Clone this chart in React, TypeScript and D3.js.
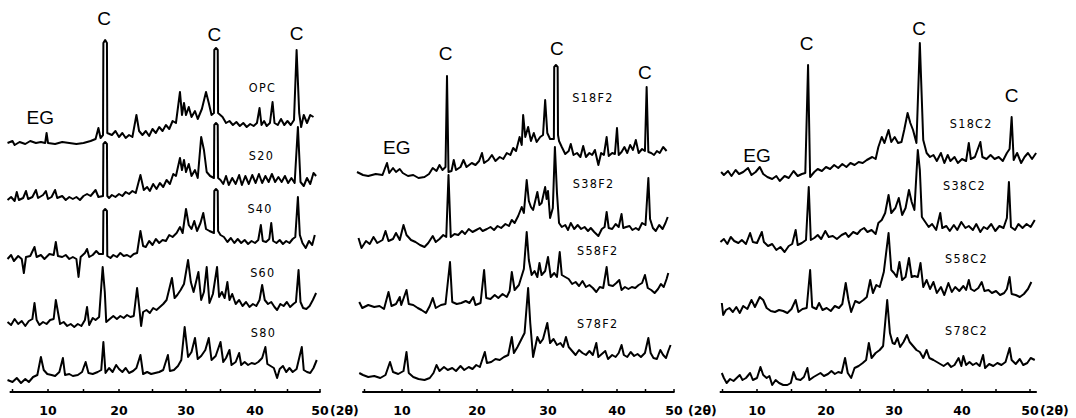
import React from "react";
import * as d3 from "d3";

type Pt = [number, number];

// 2θ tick values shared by the three panels
const tickValues = [10, 20, 30, 40, 50];
const minorTicks = [5, 10, 15, 20, 25, 30, 35, 40, 45, 50];

// ---- panel 1 : OPC and S-series (2θ, relative intensity) ----
const opc: Pt[] = [[4.3,0],[5,2],[5.3,-2],[6,1],[6.8,-1],[7.5,2],[8.3,0],[9,1],[9.6,0],[9.8,10],[10,0],[11,-1],[12,1],[13,0],[14,-1],[15,0],[16,2],[16.7,4],[17.1,15],[17.4,5],[17.75,8],[17.8,100],[18.05,103],[18.3,100],[18.35,10],[19,8],[19.5,12],[20,6],[20.5,10],[21,5],[21.5,8],[22,6],[22.6,28],[23,12],[23.5,8],[24,12],[24.5,7],[25,14],[25.5,10],[26,16],[26.5,12],[27,18],[27.5,14],[28,22],[28.5,20],[29.1,51],[29.4,28],[29.7,40],[30,28],[30.4,36],[30.8,26],[31.3,32],[31.7,24],[32.3,34],[32.9,51],[33.3,40],[33.7,28],[34.05,30],[34.1,93],[34.35,95],[34.6,93],[34.65,30],[35.3,26],[35.8,20],[36.3,22],[36.8,18],[37.3,21],[37.8,17],[38.3,20],[38.8,16],[39.3,19],[39.8,17],[40.3,20],[40.7,35],[41,18],[41.4,22],[41.8,17],[42.3,20],[42.7,41],[43,20],[43.5,18],[44,24],[44.5,18],[45,22],[45.5,18],[46,23],[46.4,93],[46.8,30],[47.1,16],[47.5,28],[48,20],[48.5,28],[49,26]];
const s20: Pt[] = [[4.3,0],[4.8,3],[5.3,-1],[5.6,8],[5.9,0],[6.5,2],[6.9,9],[7.2,1],[7.8,3],[8.3,10],[8.6,2],[9.3,5],[9.7,9],[10,1],[10.5,3],[11,10],[11.3,2],[12,4],[12.5,0],[13,3],[13.5,1],[14,3],[14.5,0],[15,4],[15.5,6],[16,4],[16.7,10],[17.1,3],[17.75,4],[17.8,56],[18.05,58],[18.3,56],[18.35,4],[18.6,2],[19,5],[19.5,3],[20,6],[20.5,4],[21,8],[21.5,6],[22,9],[22.5,7],[23.2,25],[23.7,10],[24.2,13],[24.6,9],[25.1,16],[25.6,11],[26.1,17],[26.6,13],[27.1,20],[27.6,16],[28.1,26],[28.5,24],[29.1,42],[29.4,30],[29.7,40],[30,28],[30.4,36],[30.8,24],[31.3,30],[31.7,22],[32.2,63],[32.6,50],[33,28],[33.5,24],[34.05,22],[34.1,75],[34.35,77],[34.6,75],[34.65,22],[35,20],[35.4,16],[35.8,24],[36.2,15],[36.7,22],[37.2,16],[37.7,25],[38.1,15],[38.6,24],[39.1,16],[39.6,25],[40.1,17],[40.6,26],[41.1,17],[41.6,24],[42.1,18],[42.6,26],[43.1,18],[43.6,23],[44.1,18],[44.6,24],[45.1,17],[45.6,22],[46.1,17],[46.6,73],[47,18],[47.5,14],[48,22],[48.5,16],[49,27],[49.4,24]];
const s40: Pt[] = [[4.3,0],[4.8,4],[5.2,-2],[5.8,3],[6.3,0],[6.6,-14],[6.9,2],[7.5,3],[8.1,12],[8.4,2],[9,4],[9.5,0],[10.2,5],[10.8,4],[11.1,17],[11.4,3],[12,2],[12.5,4],[13,0],[13.5,2],[14,0],[14.3,-18],[14.6,2],[15.2,6],[15.5,10],[15.8,2],[16.3,4],[16.8,8],[17.2,5],[17.75,5],[17.8,48],[18.05,50],[18.3,48],[18.35,3],[18.8,1],[19.2,4],[19.7,2],[20.2,6],[20.7,3],[21.2,4],[21.7,2],[22.2,5],[22.7,6],[23.2,28],[23.6,13],[24,12],[24.5,18],[25,14],[25.5,20],[26,16],[26.5,19],[27,18],[27.5,24],[28,22],[28.6,26],[29.1,32],[29.5,26],[30.0,50],[30.4,34],[30.8,30],[31.2,38],[31.6,28],[32.1,36],[32.5,46],[32.9,30],[33.4,28],[34.05,26],[34.1,68],[34.35,70],[34.6,68],[34.65,28],[35,24],[35.5,22],[36,17],[36.5,21],[37,16],[37.5,20],[38,16],[38.5,19],[39,15],[39.5,18],[40,16],[40.5,19],[40.9,34],[41.2,18],[41.7,17],[42.2,20],[42.5,36],[42.8,18],[43.3,16],[43.8,19],[44.3,15],[44.8,18],[45.3,16],[45.8,20],[46.2,22],[46.6,62],[46.9,24],[47.3,16],[47.8,11],[48.3,18],[48.8,14],[49.2,24]];
const s60: Pt[] = [[4.3,0],[4.8,-3],[5.3,3],[5.8,-2],[6.3,1],[6.8,-4],[7.3,1],[7.8,3],[8.1,19],[8.4,2],[8.8,-3],[9.3,0],[9.8,-2],[10.3,2],[10.8,3],[11.1,22],[11.4,10],[11.7,-2],[12.2,0],[12.7,-4],[13.2,-2],[13.7,-5],[14.2,-2],[14.7,-4],[15.2,2],[15.5,15],[15.8,-3],[16.3,4],[16.7,2],[17.2,5],[17.7,55],[18.0,30],[18.2,0],[18.7,3],[19.2,6],[19.7,3],[20.2,6],[20.7,4],[21.2,7],[21.7,5],[22.2,6],[22.7,34],[23,16],[23.3,-4],[23.6,10],[24.1,12],[24.6,9],[25.1,14],[25.6,12],[26.1,15],[26.6,18],[27.1,22],[27.9,44],[28.3,24],[28.7,27],[29.2,32],[29.7,38],[30.3,62],[30.7,40],[31.1,30],[31.8,50],[32.2,22],[32.6,30],[33.0,55],[33.4,19],[33.9,28],[34.5,55],[34.8,25],[35.2,30],[35.6,24],[36.0,40],[36.3,22],[36.7,28],[37.2,18],[37.7,22],[38.2,16],[38.7,20],[39.2,15],[39.7,18],[40.2,16],[40.7,22],[41.1,37],[41.5,22],[42,18],[42.5,20],[43,15],[43.4,12],[43.9,18],[44.4,16],[44.9,20],[45.4,15],[45.9,18],[46.3,20],[46.7,52],[47,20],[47.4,14],[47.9,13],[48.4,16],[48.9,22],[49.4,29]];
const s80: Pt[] = [[4.3,0],[5,-2],[5.6,2],[6.2,-3],[6.8,1],[7.3,-2],[7.9,3],[8.5,5],[9,23],[9.4,10],[9.9,6],[10.5,5],[11,4],[11.6,8],[12.1,22],[12.4,5],[13,6],[13.5,4],[14.2,5],[14.8,8],[15.3,18],[15.7,7],[16.3,6],[17,8],[17.5,10],[17.8,38],[18.1,7],[18.6,12],[19.1,8],[19.6,15],[20,11],[20.5,8],[21,12],[21.5,7],[22.1,9],[22.6,12],[23.2,25],[23.6,6],[24.2,8],[24.8,6],[25.4,7],[26,8],[26.6,10],[27.3,25],[27.6,9],[28.2,10],[28.8,14],[29.3,20],[29.8,53],[30.3,23],[30.8,28],[31.3,42],[31.7,21],[32.2,24],[32.8,30],[33.3,42],[33.7,20],[34.3,24],[35,38],[35.4,18],[35.8,22],[36.3,30],[36.6,15],[37.2,18],[37.7,27],[38,15],[38.5,18],[39,15],[39.5,17],[40,16],[40.5,18],[41.1,22],[41.6,33],[41.9,16],[42.4,14],[42.9,12],[43.4,2],[43.8,11],[44.3,14],[44.8,8],[45.3,12],[45.8,8],[46.4,11],[47.2,33],[47.5,10],[48,8],[48.5,7],[49,12],[49.5,20]];

// ---- panel 2 : F2 series ----
const s18f2: Pt[] = [[4.0,3],[4.8,0],[5.5,-1],[6.5,1],[7.4,0],[8.0,12],[8.3,2],[8.8,7],[9.2,3],[9.7,6],[10.1,2],[10.8,-1],[11.5,0],[12.2,-3],[13,-2],[13.6,1],[14.1,7],[14.6,4],[15,10],[15.4,5],[15.8,8],[16.0,99],[16.2,3],[16.6,4],[16.9,15],[17.2,5],[17.8,8],[18.2,15],[18.6,8],[19.3,12],[19.8,10],[20.3,14],[20.7,22],[21.0,12],[21.6,15],[22.1,20],[22.6,14],[23.2,18],[23.7,16],[24.2,22],[24.7,20],[25.1,27],[25.5,24],[26.0,38],[26.3,30],[26.5,60],[26.8,38],[27.2,48],[27.6,34],[28.0,42],[28.4,33],[28.9,38],[29.3,40],[29.6,75],[29.9,42],[30.3,36],[30.85,36],[30.9,108],[31.15,110],[31.4,108],[31.45,40],[31.6,34],[32,28],[32.5,21],[33,24],[33.3,31],[33.7,20],[34.2,22],[34.7,18],[35.1,29],[35.5,18],[36,22],[36.4,20],[36.8,25],[37.3,10],[37.7,22],[38.1,20],[38.5,38],[38.8,19],[39.3,22],[39.7,21],[40.0,47],[40.3,20],[40.8,23],[41.3,28],[41.8,22],[42.3,30],[42.8,25],[43.3,35],[43.8,22],[44.4,26],[44.9,24],[45.2,88],[45.5,23],[46,22],[46.5,20],[47,24],[47.5,22],[48.1,28],[48.7,24]];
const s38f2: Pt[] = [[4.2,5],[4.6,-5],[5.2,2],[5.7,-1],[6.2,6],[6.7,0],[7.4,3],[7.8,12],[8.2,2],[8.8,4],[9.2,10],[9.7,3],[10.2,18],[10.6,8],[11.2,3],[11.8,1],[12.4,-2],[13.0,-4],[13.5,0],[14.1,7],[14.5,1],[15.0,4],[15.5,8],[15.9,6],[16.2,68],[16.5,6],[17,9],[17.5,8],[18,12],[18.4,9],[18.9,14],[19.4,11],[19.9,13],[20.4,15],[20.8,12],[21.4,14],[21.9,16],[22.4,13],[22.9,17],[23.4,15],[24,19],[24.5,17],[24.9,23],[25.3,20],[25.8,27],[26.3,36],[26.6,30],[27.0,63],[27.3,42],[27.6,36],[27.9,33],[28.5,51],[28.8,38],[29.1,40],[29.6,56],[29.8,44],[30.0,52],[30.3,25],[30.7,35],[31.0,96],[31.3,50],[31.6,20],[32,16],[32.5,18],[32.9,13],[33.3,20],[33.8,14],[34.3,18],[34.8,14],[35.3,16],[35.8,12],[36.2,15],[36.7,11],[37.3,7],[37.8,14],[38.2,16],[38.5,31],[38.8,15],[39.3,14],[39.8,19],[40.3,16],[40.8,29],[41.1,15],[41.6,16],[42.2,17],[42.7,13],[43.3,15],[43.8,13],[44.4,20],[45.0,18],[45.5,65],[45.8,24],[46.3,15],[46.8,12],[47.4,18],[48,14],[48.5,20],[48.9,26]];
const s58f2: Pt[] = [[4.3,5],[4.7,-1],[5.5,2],[6.3,0],[7.0,1],[7.6,-2],[8.2,15],[8.6,1],[9.2,3],[9.7,10],[9.9,2],[10.6,17],[10.9,3],[11.5,2],[12.1,-1],[12.6,-3],[13.2,-6],[13.7,1],[14.1,9],[14.5,-1],[15.2,2],[15.8,3],[16.4,45],[16.7,5],[17.3,3],[17.9,4],[18.5,6],[19,4],[19.5,10],[19.8,2],[20.5,4],[21.0,37],[21.3,9],[21.9,8],[22.5,12],[23,9],[23.6,13],[24.2,10],[24.6,16],[24.9,35],[25.3,17],[25.9,22],[26.6,38],[27.0,75],[27.3,47],[27.7,32],[28.1,36],[28.5,30],[28.8,44],[29.1,32],[29.6,36],[30.0,50],[30.4,30],[30.9,34],[31.3,30],[31.7,55],[32.0,32],[32.5,30],[33,28],[33.5,23],[34,25],[34.5,21],[35,26],[35.5,20],[36,22],[36.5,19],[37.0,15],[37.5,20],[38,19],[38.5,40],[38.8,22],[39.4,21],[39.9,24],[40.4,27],[40.8,17],[41.4,20],[42,18],[42.6,20],[43.2,19],[43.8,22],[44.4,24],[44.9,32],[45.4,19],[46,17],[46.6,14],[47.2,18],[47.7,23],[48.2,20],[48.7,28],[49.0,34]];
const s78f2: Pt[] = [[4.3,2],[4.8,0],[5.5,-2],[6.3,-1],[7.1,-3],[7.8,0],[8.4,13],[8.8,3],[9.5,1],[10.2,4],[10.6,23],[10.9,2],[11.5,-2],[12.2,-4],[13,-5],[13.7,-3],[14.2,2],[14.6,10],[15,4],[15.6,8],[16.1,5],[16.7,7],[17.2,4],[17.8,9],[18.3,5],[18.9,8],[19.4,6],[19.9,10],[20.4,8],[21.1,23],[21.4,12],[22,13],[22.6,16],[23.2,15],[23.8,18],[24.4,20],[24.9,38],[25.2,22],[25.7,28],[26.2,35],[26.7,42],[27.2,87],[27.5,52],[27.9,18],[28.5,38],[28.9,32],[29.3,36],[29.9,52],[30.3,32],[30.8,36],[31.3,30],[31.8,32],[32.2,28],[32.6,38],[33,28],[33.5,24],[34,20],[34.5,25],[35,22],[35.5,20],[36,24],[36.5,20],[37.0,32],[37.3,18],[37.8,21],[38.3,24],[38.7,16],[39.3,20],[39.8,18],[40.3,22],[40.8,30],[41.2,20],[41.8,18],[42.4,23],[43,19],[43.6,21],[44.2,18],[44.9,22],[45.5,37],[45.9,22],[46.4,17],[47,16],[47.6,25],[48.1,20],[48.6,17],[49.0,24],[49.4,30]];

// ---- panel 3 : C2 series ----
const s18c2: Pt[] = [[4.8,1],[5.2,-2],[5.8,2],[6.3,-3],[6.9,3],[7.4,-1],[8.0,1],[8.7,5],[9.2,-2],[9.8,1],[10.4,6],[10.9,-1],[11.5,-4],[12.2,-6],[12.8,-3],[13.3,-8],[14.0,-3],[14.6,-5],[15.3,2],[15.9,-3],[16.5,-1],[17.0,0],[17.4,108],[17.7,-4],[18.3,1],[18.8,4],[19.4,2],[20,6],[20.6,4],[21.2,8],[21.8,5],[22.4,9],[23,6],[23.6,10],[24.2,8],[24.8,11],[25.4,10],[26,13],[26.8,16],[27.3,14],[27.7,26],[28.2,36],[28.6,30],[29.2,43],[29.6,31],[30.1,36],[30.6,30],[31.1,31],[31.5,43],[32.0,60],[32.4,50],[32.8,43],[33.3,30],[33.8,130],[34.3,33],[34.8,20],[35.3,16],[35.8,18],[36.3,12],[36.9,20],[37.4,10],[37.9,18],[38.3,12],[38.9,16],[39.4,10],[40,14],[40.6,12],[41.0,30],[41.3,14],[41.9,16],[42.7,31],[43.0,16],[43.6,14],[44.2,18],[44.8,14],[45.4,16],[46.0,12],[46.6,20],[47.0,24],[47.3,56],[47.6,13],[48.1,20],[48.7,10],[49.2,16],[49.7,20],[50.3,14],[50.9,20]];
const s38c2: Pt[] = [[4.7,0],[5.2,3],[5.7,-2],[6.2,5],[6.7,1],[7.3,-1],[7.8,2],[8.4,-2],[9.0,9],[9.4,0],[10.0,-1],[10.7,10],[11.0,0],[11.6,-4],[12.2,-2],[12.8,-8],[13.4,-5],[14.0,-10],[14.6,-4],[15.1,-2],[15.6,12],[15.9,-3],[16.5,-1],[17.1,2],[17.5,55],[17.8,2],[18.3,4],[18.8,7],[19.3,3],[19.9,11],[20.4,5],[21.0,6],[21.6,3],[22.3,7],[22.9,9],[23.3,5],[24,10],[24.6,8],[25.1,12],[25.6,14],[26.1,10],[26.7,12],[27.3,8],[27.7,19],[28.2,22],[28.7,29],[29.2,47],[29.6,29],[30.2,34],[30.7,44],[31.2,27],[31.7,34],[32.2,52],[32.6,40],[33.0,32],[33.5,92],[33.8,72],[34.1,25],[34.6,20],[35.1,15],[35.6,18],[36.2,12],[36.8,29],[37.1,14],[37.7,16],[38.2,11],[38.8,17],[39.3,12],[39.9,20],[40.5,14],[41.0,16],[41.6,12],[42.1,18],[42.7,10],[43.2,15],[43.7,13],[44.3,18],[44.9,11],[45.5,16],[46.1,14],[46.6,24],[46.9,60],[47.2,15],[47.8,12],[48.3,18],[48.9,14],[49.5,18],[50.1,15],[50.7,22]];
const s58c2: Pt[] = [[4.9,4],[5.1,-8],[5.5,-3],[6.0,-1],[6.5,-5],[7.0,0],[7.5,-6],[8.0,1],[8.6,-2],[9.2,7],[9.7,0],[10.4,10],[10.9,7],[11.4,-1],[12.0,-4],[12.6,-5],[13.2,-3],[13.8,-4],[14.4,-6],[15.0,-2],[15.6,7],[16.0,-5],[16.6,-2],[17.2,-1],[17.7,37],[18.0,0],[18.6,-2],[19.0,4],[19.5,-3],[20.1,-1],[20.7,-4],[21.3,1],[21.9,-1],[22.4,3],[22.9,24],[23.3,7],[23.7,-5],[24.3,6],[24.9,4],[25.5,7],[26.0,10],[26.5,27],[26.9,14],[27.4,22],[27.9,20],[28.5,35],[29.2,74],[29.6,37],[30.0,34],[30.4,30],[30.8,45],[31.2,27],[31.7,30],[32.2,49],[32.6,30],[33.0,31],[33.5,30],[33.9,44],[34.3,20],[34.8,27],[35.3,18],[35.8,25],[36.3,14],[36.9,20],[37.4,12],[38.0,24],[38.5,15],[39.0,20],[39.6,16],[40.2,21],[40.6,17],[41.0,27],[41.3,18],[41.8,16],[42.4,19],[42.9,25],[43.3,16],[43.9,17],[44.4,14],[45.0,16],[45.6,12],[46.2,14],[46.6,18],[47.0,30],[47.3,13],[47.9,12],[48.5,10],[49.1,13],[49.7,18],[50.2,25]];
const s78c2: Pt[] = [[4.9,7],[5.2,2],[5.6,-3],[6.1,1],[6.6,-1],[7.5,5],[7.9,0],[8.4,2],[9.0,7],[9.4,0],[10.0,2],[10.5,13],[10.9,5],[11.4,2],[11.8,4],[12.2,-5],[12.7,0],[13.2,-3],[13.8,-5],[14.4,-5],[14.9,-3],[15.3,8],[15.7,1],[16.3,0],[16.8,3],[17.3,12],[17.6,0],[18.2,3],[18.7,5],[19.2,7],[19.7,4],[20.3,6],[20.8,9],[21.3,6],[21.8,8],[22.3,7],[22.8,22],[23.2,7],[23.7,2],[24.2,12],[24.8,14],[25.4,17],[25.9,20],[26.3,37],[26.7,22],[27.3,27],[27.9,30],[28.4,34],[29.0,80],[29.4,47],[29.8,37],[30.1,36],[30.5,42],[30.9,33],[31.4,38],[31.9,45],[32.3,38],[32.8,34],[33.3,30],[33.8,28],[34.3,22],[34.8,30],[35.2,22],[35.8,20],[36.3,18],[36.8,16],[37.3,14],[37.9,17],[38.4,13],[38.9,15],[39.5,22],[39.9,14],[40.2,24],[40.6,15],[41.1,18],[41.6,15],[42.1,17],[42.6,14],[43.1,25],[43.4,12],[44.0,16],[44.6,14],[45.2,17],[45.8,15],[46.4,18],[47.0,32],[47.3,20],[47.9,16],[48.5,21],[49.0,15],[49.6,17],[50.1,22],[50.7,20]];

// sample names and stacking offsets (intensity units)
const names1 = ["OPC", "S20", "S40", "S60", "S80"];
const names2 = ["S18F2", "S38F2", "S58F2", "S78F2"];
const names3 = ["S18C2", "S38C2", "S58C2", "S78C2"];
const offsets1 = [249, 192, 133, 70, 12];
const offsets2 = [217, 149, 85, 17];
const offsets3 = [219, 150, 85, 12];

// name label anchors (2θ, intensity)
const nameTheta1 = [39.1, 39.1, 38.9, 39.3, 39.4];
const nameY1 = [300, 232, 179, 115, 55];
const nameTheta2 = [33.5, 33.6, 34.2, 34.2];
const nameY2 = [290, 204, 137, 64];
const nameTheta3 = [38.2, 37.2, 37.5, 37.5];
const nameY3 = [264, 202, 129, 57];

// phase markers: C = Ca(OH)2, EG = ettringite
const markTheta1 = [17.9, 34.1, 46.4, 8.9];
const markY1 = [367, 351, 352, 268];
const markTheta2 = [15.8, 31.3, 44.9, 9.3];
const markY2 = [332, 337, 313, 238];
const markTheta3 = [17.2, 33.7, 47.3, 10];
const markY3 = [342, 357, 290, 230];
const markText = ["C", "C", "C", "EG"];

const panels = [
  { tickPx: [48, 119, 186, 255, 320], axis: [4.6, 50.1], unitGap: 10, traces: [opc, s20, s40, s60, s80], names: names1, offsets: offsets1, nameTheta: nameTheta1, nameY: nameY1, markTheta: markTheta1, markY: markY1 },
  { tickPx: [402, 477, 548, 617, 674], axis: [4.7, 50.1], unitGap: 14, traces: [s18f2, s38f2, s58f2, s78f2], names: names2, offsets: offsets2, nameTheta: nameTheta2, nameY: nameY2, markTheta: markTheta2, markY: markY2 },
  { tickPx: [757, 826, 894, 962, 1030], axis: [4.6, 51.0], unitGap: 10, traces: [s18c2, s38c2, s58c2, s78c2], names: names3, offsets: offsets3, nameTheta: nameTheta3, nameY: nameY3, markTheta: markTheta3, markY: markY3 },
];

const W = 1076;
const H = 418;
const AXIS_Y = 392;

const yScale = d3.scaleLinear().domain([0, 380]).range([AXIS_Y, 12]);

const Panel = ({ p }: { p: (typeof panels)[number] }) => {
  const x = d3.scaleLinear().domain(tickValues).range(p.tickPx);
  return (
    <g>
      {p.traces.map((tr, i) => {
        const line = d3
          .line<Pt>()
          .x((d) => x(d[0]))
          .y((d) => yScale(d[1] + p.offsets[i]));
        return (
          <path
            key={i}
            d={line(tr) || ""}
            fill="none"
            stroke="#000"
            strokeWidth={2}
            strokeLinejoin="round"
          />
        );
      })}
      {/* axis */}
      <line x1={x(p.axis[0])} x2={x(p.axis[1])} y1={AXIS_Y} y2={AXIS_Y} stroke="#000" strokeWidth={2} />
      {minorTicks.map((t) => (
        <line key={t} x1={x(t)} x2={x(t)} y1={AXIS_Y} y2={AXIS_Y - 3} stroke="#000" strokeWidth={1.5} />
      ))}
      {tickValues.map((t) => (
        <text key={t} x={x(t)} y={415} textAnchor="middle" fontSize={12.5} fontWeight="bold" fontFamily="DejaVu Sans, sans-serif">
          {t}
        </text>
      ))}
      <text x={x(50) + p.unitGap} y={415} fontSize={12.5} fontWeight="bold" fontFamily="DejaVu Sans, sans-serif">
        (2θ)
      </text>
      {p.names.map((n, i) => (
        <text key={n} x={x(p.nameTheta[i])} y={yScale(p.nameY[i])} fontSize={12.5} letterSpacing={1.3} fontFamily="DejaVu Sans Condensed, DejaVu Sans, sans-serif">
          {n}
        </text>
      ))}
      {markText.map((m, i) => (
        <text key={i} x={x(p.markTheta[i])} y={yScale(p.markY[i])} textAnchor="middle" fontSize={19} fontFamily="Liberation Sans, Arial, sans-serif">
          {m}
        </text>
      ))}
    </g>
  );
};

export default function App() {
  return (
    <svg width={W} height={H} style={{ position: "absolute", left: 0, top: 0, background: "#fff" }}>
      <rect width={W} height={H} fill="#fff" />
      {panels.map((p, i) => (
        <Panel key={i} p={p} />
      ))}
    </svg>
  );
}
